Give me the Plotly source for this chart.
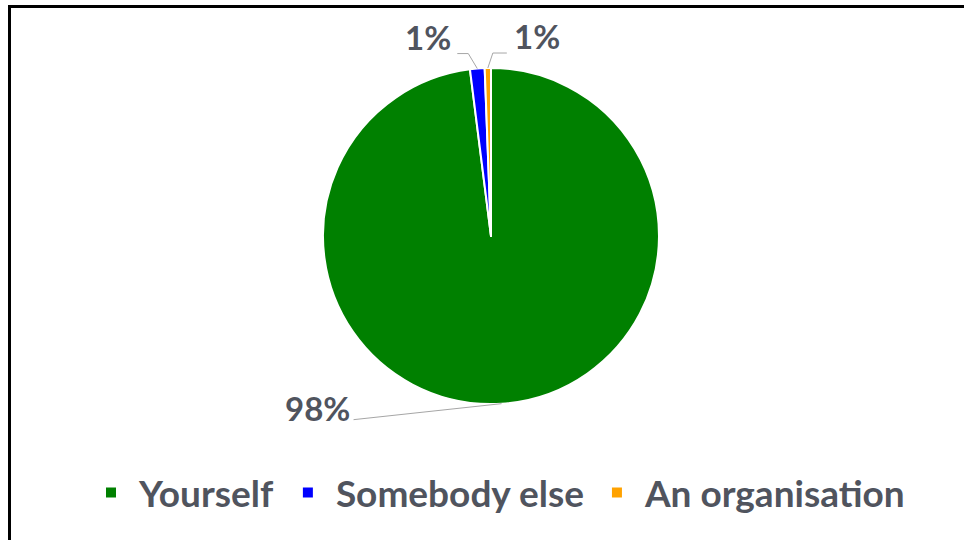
import math
import plotly.graph_objects as go

# Who the response was for
categories = ["Yourself", "Somebody else", "An organisation"]
shares = [98.0, 1.4, 0.6]
slice_colors = ["#008000", "#0000FF", "#FFA200"]

W, H = 964, 540
TEXT = "#50545e"
FONT = "Lato, 'Open Sans', Arial, sans-serif"

# pie geometry in pixels (top-left origin)
CX, CY, R = 491, 236, 168

def px(x):
    return x / W

def py(y):
    return 1 - y / H

# label offsets from each slice's rim point: elbow, line end, text anchor
label_layout = [
    dict(elbow=None, end=(-148, 16), text=(-150, 4), anchor="right"),
    dict(elbow=(-9, -15), end=(-20, -15), text=(-24, -32), anchor="right"),
    dict(elbow=(5, -15), end=(19, -15), text=(24, -32), anchor="left"),
]

fig = go.Figure(
    go.Pie(
        labels=categories,
        values=shares,
        marker=dict(colors=slice_colors, line=dict(color="white", width=2)),
        sort=False,
        direction="clockwise",
        rotation=0,
        textinfo="none",
        hoverinfo="label+percent",
        domain=dict(x=[px(CX - R), px(CX + R)], y=[py(CY + R), py(CY - R)]),
    )
)

total = sum(shares)
shapes = []
annotations = []
cum = 0.0
for v, lay in zip(shares, label_layout):
    mid = (cum + v / 2) / total * 2 * math.pi
    cum += v
    rx = CX + R * math.sin(mid)
    ry = CY - R * math.cos(mid)
    pts = [(rx, ry)]
    if lay["elbow"]:
        pts.append((rx + lay["elbow"][0], ry + lay["elbow"][1]))
    pts.append((rx + lay["end"][0], ry + lay["end"][1]))
    path = "M" + " L".join(f"{px(a):.5f},{py(b):.5f}" for a, b in pts)
    shapes.append(dict(type="path", xref="paper", yref="paper", path=path,
                       line=dict(color="#a6a6a6", width=1)))
    annotations.append(dict(
        xref="paper", yref="paper",
        x=px(rx + lay["text"][0]), y=py(ry + lay["text"][1]),
        xanchor=lay["anchor"], yanchor="middle",
        text=f"{round(v / total * 100)}%", showarrow=False,
        font=dict(family=FONT, size=33, color=TEXT, weight="bold"),
    ))

# chart frame: top and left edges
shapes.append(dict(type="line", xref="paper", yref="paper",
                   x0=px(8), x1=1, y0=py(6.5), y1=py(6.5),
                   line=dict(color="black", width=3)))
shapes.append(dict(type="line", xref="paper", yref="paper",
                   x0=px(9.5), x1=px(9.5), y0=py(5), y1=0,
                   line=dict(color="black", width=3)))

fig.update_layout(
    width=W, height=H,
    margin=dict(l=0, r=0, t=0, b=0),
    paper_bgcolor="white",
    plot_bgcolor="white",
    shapes=shapes,
    annotations=annotations,
    showlegend=True,
    legend=dict(
        orientation="h",
        x=px(497), xanchor="center",
        y=py(493), yanchor="middle",
        font=dict(family=FONT, size=37, color=TEXT, weight="bold"),
        itemwidth=46,
        traceorder="normal",
    ),
)

fig.write_html("out.html")
